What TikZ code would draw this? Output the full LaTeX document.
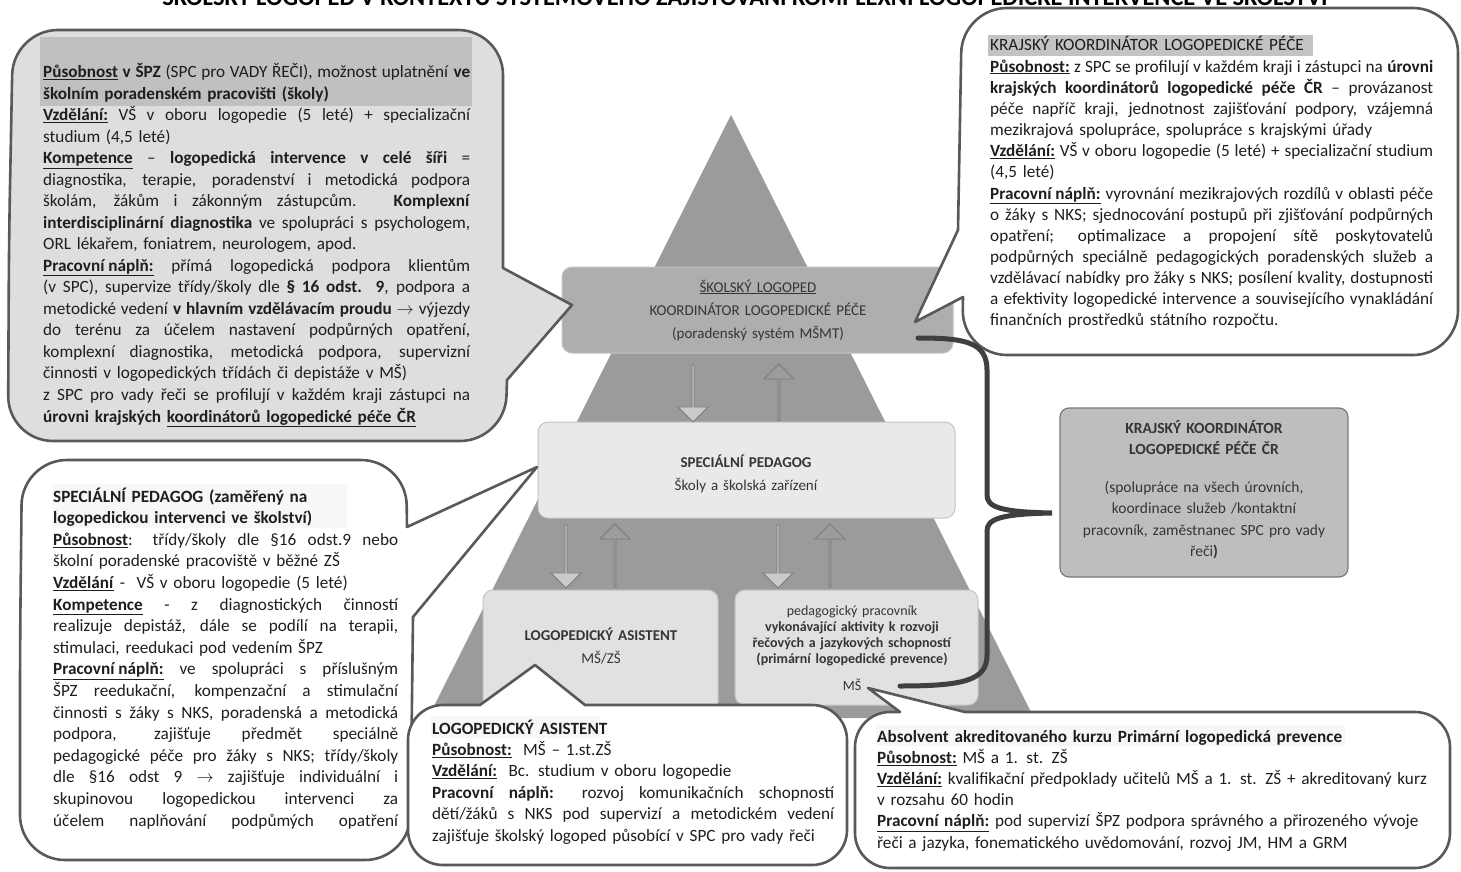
\documentclass[tikz,border=0pt]{standalone}
\usepackage{fontspec}
\setmainfont{Carlito}
\usepackage{graphicx}
\usetikzlibrary{positioning,shapes.arrows}

\definecolor{rim}{HTML}{595959}
\definecolor{ink}{HTML}{1E1E1E}
\definecolor{bubblegray}{HTML}{DEDEDE}
\definecolor{bandgray}{HTML}{C0C0C0}
\definecolor{pyrgray}{HTML}{9B9B9B}
\definecolor{topbox}{HTML}{AEAEAE}
\definecolor{midbox}{HTML}{E9E9E9}
\definecolor{lowbox}{HTML}{E1E1E1}
\definecolor{boxrim}{HTML}{C4C4C4}
\definecolor{krajbox}{HTML}{BEBEBE}
\definecolor{arrrim}{HTML}{7A7A7A}
\definecolor{arrlight}{HTML}{CACACA}
\definecolor{arrdark}{HTML}{9C9C9C}
\definecolor{bracegray}{HTML}{3F3F3F}

\newlength{\colw}
\newcommand{\jl}[1]{\noindent\hbox to \colw{\spaceskip=0pt\xspaceskip=0pt\relax#1}\par} % justified line
\newcommand{\pl}[1]{\noindent\hbox{#1}\par}            % plain line
\newcommand{\ubf}[1]{\underline{\textbf{#1}}}

\tikzset{
  bubble/.style={draw=rim, line width=2.6pt, line join=round},
  lvlbox/.style={draw=boxrim, line width=1pt, rounded corners=10pt, inner sep=0pt},
  txt/.style={inner sep=0pt, anchor=base west, text=ink,
    font=\fontsize{17.2}{21.5}\selectfont},
  lvltxt/.style={inner sep=0pt, anchor=base, align=center, text=ink!90,
    text width=380pt, font=\fontsize{15}{23}\selectfont},
  arrbase/.style={single arrow, draw=arrrim, line width=0.8pt,
    minimum height=57pt, minimum width=30pt,
    single arrow head extend=6pt, inner sep=0pt},
  downarr/.style={arrbase, fill=arrlight, rotate=-90},
  uparr/.style={arrbase, fill=arrdark, rotate=90}
}

\begin{document}
\begin{tikzpicture}[x=1pt,y=-1pt]

  \useasboundingbox (0,0) rectangle (1461,872);
  \fill[white] (0,0) rectangle (1461,872);

  % title, cut at the top edge
  \node[anchor=base, inner sep=0pt] (title) at (745,6)
    {\resizebox{1165pt}{!}{\bfseries ŠKOLSKÝ LOGOPED V KONTEXTU SYSTÉMOVÉHO ZAJIŠŤOVÁNÍ KOMPLEXNÍ LOGOPEDICKÉ INTERVENCE VE ŠKOLSTVÍ}};

  % pyramid
  \fill[pyrgray] (731,115) -- (428,718) -- (1034,718) -- cycle;

  % levels
  \node[lvlbox, fill=topbox, minimum width=391pt, minimum height=86pt] (skol) at (757.5,310) {};
  \node[lvlbox, fill=midbox, minimum width=417pt, minimum height=96pt] (spec) at (746.5,470) {};
  \node[lvlbox, fill=lowbox, minimum width=235pt, minimum height=122pt] (asist) at (600.5,651) {};
  \node[lvlbox, fill=lowbox, minimum width=243pt, minimum height=115pt] (prac) at (856.5,647.5) {};

  \node[lvltxt] (skoltxt) at (758,292)
    {\underline{ŠKOLSKÝ LOGOPED}\\KOORDINÁTOR LOGOPEDICKÉ PÉČE\\(poradenský systém MŠMT)};
  \node[lvltxt] (spectxt) at (746,467)
    {\textbf{SPECIÁLNÍ PEDAGOG}\\Školy a školská zařízení};
  \node[lvltxt] (asisttxt) at (601,640)
    {\textbf{LOGOPEDICKÝ ASISTENT}\\MŠ/ZŠ};
  \node[lvltxt, font=\fontsize{14}{16}\selectfont] (practxt) at (852,615)
    {pedagogický pracovník\\\textbf{vykonávající aktivity k rozvoji}\\\textbf{řečových a jazykových schopností}\\\textbf{(primární logopedické prevence)}};
  \node[lvltxt, text width=, font=\fontsize{14}{16}\selectfont] (ms) at (852,690) {MŠ};

  % arrows between levels
  \node[downarr] (dA) at (693,393) {};
  \node[uparr] (uA) at (779,393) {};
  \node[downarr, minimum height=63pt] (dB) at (566,556) {};
  \node[uparr, minimum height=63pt] (uB) at (615,556) {};
  \node[downarr, minimum height=63pt] (dC) at (778,556) {};
  \node[uparr, minimum height=63pt] (uC) at (830,556) {};

  % regional coordinator
  \node[draw=arrrim, fill=krajbox, line width=1.2pt, rounded corners=9pt,
        minimum width=288pt, minimum height=169pt] (kraj) at (1204,492.5) {};
  \node[lvltxt, text width=280pt, font=\fontsize{15.5}{21.5}\selectfont] (krajtxt) at (1204,433)
    {\textbf{KRAJSKÝ KOORDINÁTOR}\\\textbf{LOGOPEDICKÉ PÉČE ČR}\\[16pt]
     (spolupráce na všech úrovních,\\koordinace služeb /kontaktní\\
     pracovník, zaměstnanec SPC pro vady\\řeči\textbf{)}};

  % top left callout
  \draw[bubble, fill=bubblegray, rounded corners=45pt]
    (9,240) -- (13,30) -- (503,30) [sharp corners] -- (503,268) -- (572,305)
    -- (507,380) [rounded corners=45pt] -- (505,441) -- (8,441) -- cycle;
  \fill[bandgray] (40,37) rectangle (472,106);
  \node[txt, text width=427pt] (tltxt) at (43,78) {\setlength{\colw}{427pt}%
    \jl{\ubf{Působnost} \textbf{v ŠPZ} (SPC pro VADY ŘEČI), možnost uplatnění \textbf{ve}}
    \pl{\textbf{školním poradenském pracovišti (školy)}}
    \jl{\ubf{Vzdělání:} VŠ v oboru logopedie (5 leté) + specializační}
    \pl{studium (4,5 leté)}
    \jl{\ubf{Kompetence} – \textbf{logopedická intervence v celé šíři} =}
    \jl{diagnostika, terapie, poradenství i metodická podpora}
    \jl{školám, žákům i zákonným zástupcům. \textbf{Komplexní}}
    \jl{\textbf{interdisciplinární diagnostika} ve spolupráci s psychologem,}
    \pl{ORL lékařem, foniatrem, neurologem, apod.}
    \jl{\ubf{Pracovní náplň:} přímá logopedická podpora klientům}
    \jl{(v SPC), supervize třídy/školy dle \textbf{§ 16 odst. 9}, podpora a}
    \jl{metodické vedení \textbf{v hlavním vzdělávacím proudu} $\rightarrow$ výjezdy}
    \jl{do terénu za účelem nastavení podpůrných opatření,}
    \jl{komplexní diagnostika, metodická podpora, supervizní}
    \pl{činnosti v logopedických třídách či depistáže v MŠ)}
    \jl{z SPC pro vady řeči se profilují v každém kraji zástupci na}
    \pl{\textbf{úrovni krajských} \ubf{koordinátorů logopedické péče ČR}}};

  % top right callout
  \draw[bubble, fill=white, rounded corners=45pt]
    (1458,180) -- (1458,355) -- (962,355) [sharp corners] -- (963,297) -- (915,322)
    -- (958,230) [rounded corners=45pt] -- (962,8) -- (1458,8) -- cycle;
  \fill[bandgray!95!white] (988,35) rectangle (1313,56);
  \node[txt, text width=443pt, font=\fontsize{17.2}{21.15}\selectfont] (trtxt) at (990,51) {\setlength{\colw}{443pt}%
    \pl{KRAJSKÝ KOORDINÁTOR LOGOPEDICKÉ PÉČE}
    \jl{\ubf{Působnost:} z SPC se profilují v každém kraji i zástupci na \textbf{úrovni}}
    \jl{\textbf{krajských koordinátorů logopedické péče ČR} – provázanost}
    \jl{péče napříč kraji, jednotnost zajišťování podpory, vzájemná}
    \pl{mezikrajová spolupráce, spolupráce s krajskými úřady}
    \jl{\ubf{Vzdělání:} VŠ v oboru logopedie (5 leté) + specializační studium}
    \pl{(4,5 leté)}
    \jl{\ubf{Pracovní náplň:} vyrovnání mezikrajových rozdílů v oblasti péče}
    \jl{o žáky s NKS; sjednocování postupů při zjišťování podpůrných}
    \jl{opatření; optimalizace a propojení sítě poskytovatelů}
    \jl{podpůrných speciálně pedagogických poradenských služeb a}
    \jl{vzdělávací nabídky pro žáky s NKS; posílení kvality, dostupnosti}
    \jl{a efektivity logopedické intervence a souvisejícího vynakládání}
    \pl{finančních prostředků státního rozpočtu.}};

  % lower left callout
  \draw[bubble, fill=white, rounded corners=45pt]
    (20,650) -- (22,460) -- (406,460) [sharp corners] -- (407,527) -- (537,467)
    -- (413,617) [rounded corners=45pt] -- (410,860) -- (20,860) -- cycle;
  \fill[gray!6] (52,484) rectangle (347,528);
  \node[txt, text width=345pt, font=\fontsize{17.2}{21.6}\selectfont] (lltxt) at (53,502) {\setlength{\colw}{345pt}%
    \pl{\textbf{SPECIÁLNÍ PEDAGOG (zaměřený na}}
    \pl{\textbf{logopedickou intervenci ve školství)}}
    \jl{\ubf{Působnost}: třídy/školy dle §16 odst.9 nebo}
    \pl{školní poradenské pracoviště v běžné ZŠ}
    \pl{\ubf{Vzdělání} -\ \ VŠ v oboru logopedie (5 leté)}
    \jl{\ubf{Kompetence} - z diagnostických činností}
    \jl{realizuje depistáž, dále se podílí na terapii,}
    \pl{stimulaci, reedukaci pod vedením ŠPZ}
    \jl{\ubf{Pracovní náplň:} ve spolupráci s příslušným}
    \jl{ŠPZ reedukační, kompenzační a stimulační}
    \jl{činnosti s žáky s NKS, poradenská a metodická}
    \jl{podpora, zajišťuje předmět speciálně}
    \jl{pedagogické péče pro žáky s NKS; třídy/školy}
    \jl{dle §16 odst 9 $\rightarrow$ zajišťuje individuální i}
    \jl{skupinovou logopedickou intervenci za}
    \jl{účelem naplňování podpůmých opatření}};

  % bottom middle callout
  \draw[bubble, fill=white, rounded corners=35pt]
    (408,790) -- (408,705) [sharp corners] -- (480,705) -- (535,665)
    -- (585,705) [rounded corners=35pt] -- (847,705) -- (847,865) -- (408,865) -- cycle;
  \fill[gray!6] (431,716) rectangle (600,738);
  \node[txt, text width=402pt, font=\fontsize{17.2}{21.4}\selectfont] (bmtxt) at (432,734) {\setlength{\colw}{402pt}%
    \pl{\textbf{LOGOPEDICKÝ ASISTENT}}
    \pl{\ubf{Působnost:}\ \ MŠ – 1.st.ZŠ}
    \pl{\ubf{Vzdělání:}\ \ Bc. studium v oboru logopedie}
    \jl{\textbf{Pracovní náplň:} rozvoj komunikačních schopností}
    \jl{dětí/žáků s NKS pod supervizí a metodickém vedení}
    \pl{zajišťuje školský logoped působící v SPC pro vady řeči}};

  % bottom right callout
  \draw[bubble, fill=white, rounded corners=35pt]
    (855,790) -- (855,712) [sharp corners] -- (900,712) -- (868,688)
    -- (965,712) [rounded corners=35pt] -- (1450,712) -- (1450,868) -- (855,868) -- cycle;
  \fill[gray!6] (876,725) rectangle (1345,746);
  \node[txt, text width=560pt, font=\fontsize{17.2}{21.2}\selectfont] (brtxt) at (877,742) {\setlength{\colw}{560pt}%
    \pl{\textbf{Absolvent akreditovaného kurzu Primární logopedická prevence}}
    \pl{\ubf{Působnost:} MŠ a 1. st. ZŠ}
    \pl{\ubf{Vzdělání:} kvalifikační předpoklady učitelů MŠ a 1. st. ZŠ + akreditovaný kurz}
    \pl{v rozsahu 60 hodin}
    \pl{\ubf{Pracovní náplň:} pod supervizí ŠPZ podpora správného a přirozeného vývoje}
    \pl{řeči a jazyka, fonematického uvědomování, rozvoj JM, HM a GRM}};

  % brace towards the regional coordinator
  \coordinate (bracetip) at (1052,513);
  \draw[bracegray, line width=5pt, line cap=round]
    (918,338) .. controls (965,338) and (987,342) .. (987,370) -- (987,495)
    .. controls (987,507) and (1000,512) .. (bracetip)
    .. controls (1000,514) and (987,519) .. (987,531) -- (987,655)
    .. controls (987,680) and (965,686) .. (900,686);

\end{tikzpicture}
\end{document}
